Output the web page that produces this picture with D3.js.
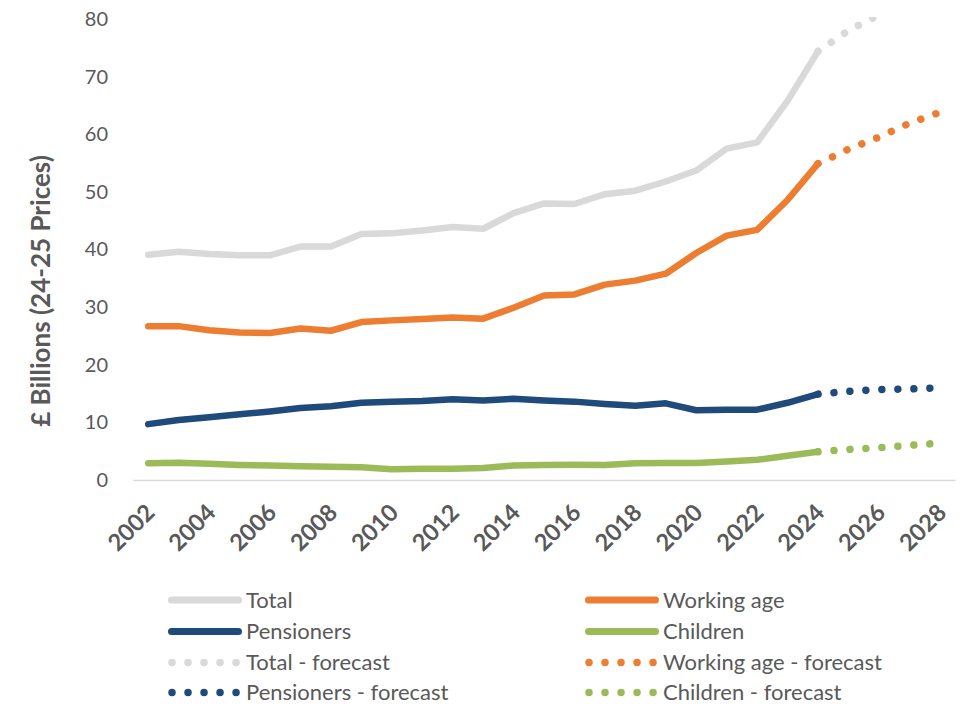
<!DOCTYPE html>
<html>
<head>
<meta charset="utf-8">
<script src="https://cdn.jsdelivr.net/npm/d3@7"></script>
<style>
  html, body { margin: 0; padding: 0; background: #fff; }
  svg { display: block; font-family: Lato, "Open Sans", sans-serif; }
</style>
</head>
<body>
<svg id="chart" width="961" height="706"></svg>
<script>
// ---- Data ----
const years = d3.range(2002, 2029).map(String);
const actualYears = d3.range(2002, 2025).map(String);
const forecastYears = ["2024", "2025", "2026", "2027", "2028"];
const tickYears = ["2002","2004","2006","2008","2010","2012","2014","2016","2018","2020","2022","2024","2026","2028"];
const yTicks = [0, 10, 20, 30, 40, 50, 60, 70, 80];

const total = [39.1, 39.6, 39.2, 39.0, 39.0, 40.5, 40.5, 42.7, 42.8, 43.3, 43.9, 43.6,
               46.3, 48.0, 47.9, 49.6, 50.2, 51.8, 53.7, 57.5, 58.6, 65.8, 74.4];
const workingAge = [26.7, 26.7, 26.0, 25.6, 25.5, 26.3, 25.9, 27.4, 27.7, 27.95, 28.2, 28.0,
                    29.9, 32.0, 32.2, 33.9, 34.6, 35.8, 39.4, 42.4, 43.4, 48.6, 54.9];
const pensioners = [9.7, 10.4, 10.9, 11.4, 11.9, 12.5, 12.8, 13.4, 13.6, 13.7, 14.0, 13.8,
                    14.1, 13.8, 13.6, 13.2, 12.9, 13.3, 12.1, 12.2, 12.2, 13.4, 14.9];
const children = [2.9, 3.0, 2.8, 2.6, 2.5, 2.4, 2.3, 2.2, 1.85, 1.95, 1.95, 2.1,
                  2.5, 2.6, 2.65, 2.6, 2.9, 2.95, 2.95, 3.2, 3.5, 4.2, 4.9];

const totalForecast = [74.4, 78.0, 80.7, 83.6, 86.2];
const workingAgeForecast = [54.9, 57.4, 59.5, 61.9, 63.8];
const pensionersForecast = [14.9, 15.4, 15.7, 15.8, 16.0];
const childrenForecast = [4.9, 5.3, 5.6, 6.0, 6.4];

const seriesNames = ["Total", "Working age", "Pensioners", "Children"];
const seriesColors = ["#d9d9d9", "#ed7d31", "#1f4a7c", "#9bbb59"];

// ---- Layout ----
const svg = d3.select("#chart");
const plot = { left: 133, right: 955, top: 19, bottom: 480 };
const textColor = "#595959";

const x = d3.scaleBand().domain(years).range([plot.left, plot.right]);
const xc = d => x(d) + x.bandwidth() / 2;
const y = d3.scaleLinear().domain([0, 80]).range([plot.bottom, plot.top]);

svg.append("defs").append("clipPath").attr("id", "clip")
  .append("rect").attr("x", 0).attr("y", plot.top - 2)
  .attr("width", 961).attr("height", 706);

// Y axis
const yAxis = svg.append("g")
  .attr("transform", `translate(${plot.left},0)`)
  .call(d3.axisLeft(y).tickValues(yTicks).tickSize(0).tickPadding(25).tickFormat(d3.format("d")));
yAxis.select(".domain").remove();
yAxis.selectAll("text")
  .attr("fill", textColor).style("font-size", "20px").style("font-family", "Lato, sans-serif");

// X axis
const xAxis = svg.append("g")
  .attr("transform", `translate(0,${plot.bottom})`)
  .call(d3.axisBottom(x).tickValues(tickYears).tickSize(0));
xAxis.select(".domain").attr("stroke", "#d9d9d9").attr("stroke-width", 1.5);
xAxis.selectAll(".tick text")
  .attr("fill", textColor)
  .style("font-size", "23.5px").style("font-weight", "bold").style("font-family", "Lato, sans-serif")
  .attr("text-anchor", "end")
  .attr("y", 0).attr("dy", 0)
  .attr("transform", "translate(8,34) rotate(-45)");

// Y axis title
svg.append("text")
  .attr("transform", "translate(50,291) rotate(-90)")
  .attr("text-anchor", "middle")
  .attr("fill", textColor)
  .style("font-size", "26px").style("font-weight", "bold")
  .text("£ Billions (24-25 Prices)");

// Lines
const line = d3.line().x(d => xc(d[0])).y(d => y(d[1]));
const actualSeries = [total, workingAge, pensioners, children];
const forecastSeries = [totalForecast, workingAgeForecast, pensionersForecast, childrenForecast];

const lines = svg.append("g").attr("clip-path", "url(#clip)");
actualSeries.forEach((vals, i) => {
  lines.append("path")
    .datum(actualYears.map((yr, j) => [yr, vals[j]]))
    .attr("d", line)
    .attr("fill", "none")
    .attr("stroke", seriesColors[i])
    .attr("stroke-width", 6.5)
    .attr("stroke-linejoin", "round")
    .attr("stroke-linecap", "round");
});
forecastSeries.forEach((vals, i) => {
  lines.append("path")
    .datum(forecastYears.map((yr, j) => [yr, vals[j]]))
    .attr("d", line)
    .attr("fill", "none")
    .attr("stroke", seriesColors[i])
    .attr("stroke-width", 7.5)
    .attr("stroke-dasharray", "0.01 16")
    .attr("stroke-linecap", "round");
});

// Legend
const legendItems = [];
seriesNames.forEach((n, i) => legendItems.push({ name: n, color: seriesColors[i], dotted: false }));
seriesNames.forEach((n, i) => legendItems.push({ name: n + " - forecast", color: seriesColors[i], dotted: true }));

const legend = svg.append("g");
const colX = [168, 585];
const rowY = [600, 631.5, 662.5, 692.5];
legendItems.forEach((item, k) => {
  const cx = colX[k % 2];
  const cy = rowY[Math.floor(k / 2)];
  const g = legend.append("g").attr("transform", `translate(${cx},${cy})`);
  if (item.dotted) {
    g.append("line").attr("x1", 4).attr("x2", 68.1).attr("y1", 0).attr("y2", 0)
      .attr("stroke", item.color).attr("stroke-width", 7.5)
      .attr("stroke-dasharray", "0.01 16").attr("stroke-linecap", "round");
  } else {
    g.append("line").attr("x1", 3.5).attr("x2", 70.5).attr("y1", 0).attr("y2", 0)
      .attr("stroke", item.color).attr("stroke-width", 7)
      .attr("stroke-linecap", "round");
  }
  g.append("text").attr("x", 78).attr("y", 0).attr("dy", "0.35em")
    .attr("fill", textColor).style("font-size", "22px")
    .text(item.name);
});
</script>
</body>
</html>
